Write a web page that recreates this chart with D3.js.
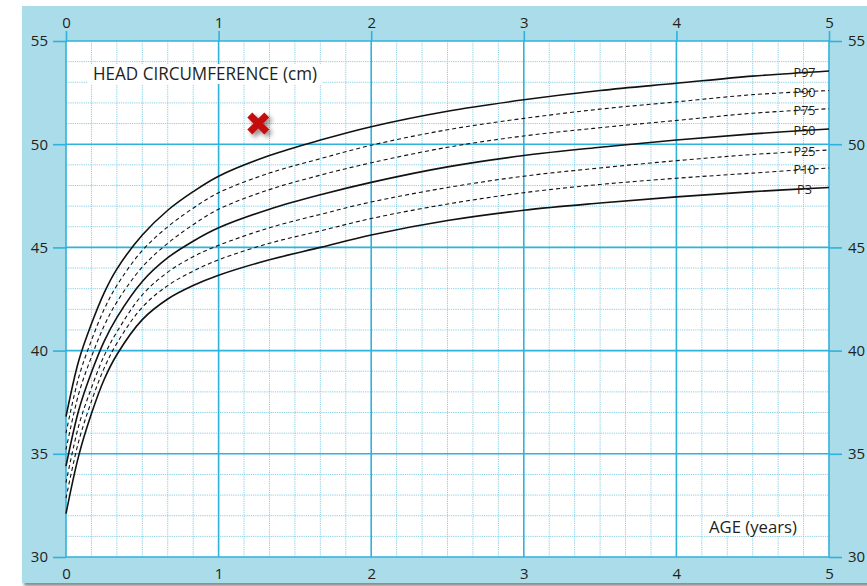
<!DOCTYPE html>
<html>
<head>
<meta charset="utf-8">
<script src="https://cdn.jsdelivr.net/npm/d3@7"></script>
<style>
  html, body { margin: 0; padding: 0; background: #ffffff; }
  svg { display: block; }
  text { font-family: "Open Sans", "DejaVu Sans", sans-serif; fill: #231f20; }
</style>
</head>
<body>
<svg id="chart" width="867" height="586"></svg>
<script>
// ---------- DATA ----------
const ages = [0, 0.083, 0.167, 0.25, 0.333, 0.5, 0.667, 0.833, 1, 1.333, 1.667, 2, 2.5, 3, 3.5, 4, 4.5, 5];
const p97 = [36.8, 39.5, 41.3, 42.8, 43.95, 45.6, 46.8, 47.7, 48.45, 49.45, 50.2, 50.85, 51.6, 52.15, 52.6, 52.95, 53.3, 53.55];
const p90 = [36.0, 38.7, 40.5, 42.0, 43.15, 44.85, 46.0, 46.9, 47.65, 48.6, 49.3, 49.95, 50.7, 51.25, 51.7, 52.05, 52.4, 52.6];
const p75 = [35.2, 37.9, 39.7, 41.2, 42.35, 44.05, 45.2, 46.1, 46.85, 47.8, 48.5, 49.1, 49.85, 50.4, 50.8, 51.15, 51.5, 51.72];
const p50 = [34.4, 37.1, 38.95, 40.45, 41.6, 43.35, 44.5, 45.3, 45.95, 46.85, 47.55, 48.15, 48.9, 49.45, 49.85, 50.2, 50.5, 50.74];
const p25 = [33.6, 36.35, 38.2, 39.75, 40.9, 42.7, 43.8, 44.55, 45.1, 45.95, 46.6, 47.2, 47.9, 48.45, 48.85, 49.2, 49.5, 49.72];
const p10 = [32.85, 35.6, 37.55, 39.15, 40.35, 42.1, 43.15, 43.85, 44.4, 45.2, 45.8, 46.4, 47.1, 47.65, 48.05, 48.35, 48.6, 48.85];
const p3  = [32.1, 34.9, 36.95, 38.6, 39.8, 41.5, 42.5, 43.15, 43.65, 44.4, 45.0, 45.6, 46.3, 46.8, 47.15, 47.45, 47.7, 47.9];
const seriesNames = ["P97", "P90", "P75", "P50", "P25", "P10", "P3"];
const seriesValues = [p97, p90, p75, p50, p25, p10, p3];
const dashedSeries = ["P90", "P75", "P25", "P10"];
const xTicks = [0, 1, 2, 3, 4, 5];
const yTicks = [30, 35, 40, 45, 50, 55];
const markAge = [1.26];
const markValue = [51.0];
const yTitle = "HEAD CIRCUMFERENCE (cm)";
const xTitle = "AGE (years)";
const labelAge = 4.84;

// ---------- LAYOUT ----------
const svg = d3.select("#chart");
const x = d3.scaleLinear().domain([0, 5]).range([66, 829]);
const y = d3.scaleLinear().domain([30, 55]).range([557, 41]);
const majorColor = "#2fb2db";
const minorColor = "#86cfe6";

const defs = svg.append("defs");
const shadow = defs.append("filter").attr("id", "xshadow").attr("x", "-50%").attr("y", "-50%").attr("width", "200%").attr("height", "200%");
shadow.append("feDropShadow").attr("dx", 3).attr("dy", 3).attr("stdDeviation", 2.5).attr("flood-color", "#000").attr("flood-opacity", 0.45);
const bshadow = defs.append("filter").attr("id", "bshadow").attr("x", "-5%").attr("y", "-5%").attr("width", "110%").attr("height", "110%");
bshadow.append("feGaussianBlur").attr("stdDeviation", 1.5);

// panel shadow + blue background
svg.append("rect").attr("x", 24).attr("y", 9).attr("width", 850).attr("height", 577)
  .attr("fill", "#8a8a8a").attr("filter", "url(#bshadow)");
svg.append("rect").attr("x", 22).attr("y", 6).attr("width", 850).attr("height", 577).attr("fill", "#aadcea");

// white plot area
svg.append("rect").attr("x", x(0)).attr("y", y(55)).attr("width", x(5) - x(0)).attr("height", y(30) - y(55)).attr("fill", "#ffffff");

// minor grid
const minorX = d3.range(0, 31).map(i => i / 6).filter(v => Math.abs(v - Math.round(v)) > 1e-6);
const minorY = d3.range(30, 56).filter(v => v % 5 !== 0);
const grid = svg.append("g");
grid.selectAll(".mx").data(minorX).join("line")
  .attr("x1", d => x(d)).attr("x2", d => x(d)).attr("y1", y(55)).attr("y2", y(30))
  .attr("stroke", minorColor).attr("stroke-width", 1).attr("stroke-dasharray", "1.2,1");
grid.selectAll(".my").data(minorY).join("line")
  .attr("x1", x(0)).attr("x2", x(5)).attr("y1", d => y(d)).attr("y2", d => y(d))
  .attr("stroke", minorColor).attr("stroke-width", 1).attr("stroke-dasharray", "1.2,1");

// white boxes for titles (hide grid)
svg.append("rect").attr("x", 88).attr("y", 64).attr("width", 234).attr("height", 20).attr("fill", "#fff");
svg.append("rect").attr("x", 705).attr("y", 517).attr("width", 96).attr("height", 19).attr("fill", "#fff");

// major grid
grid.selectAll(".Mx").data(xTicks).join("line")
  .attr("x1", d => x(d)).attr("x2", d => x(d)).attr("y1", y(55)).attr("y2", y(30))
  .attr("stroke", majorColor).attr("stroke-width", 1.6);
grid.selectAll(".My").data(yTicks).join("line")
  .attr("x1", x(0)).attr("x2", x(5)).attr("y1", d => y(d)).attr("y2", d => y(d))
  .attr("stroke", majorColor).attr("stroke-width", 1.6);

// axes
function styleAxis(g) {
  g.select(".domain").remove();
  g.selectAll(".tick line").attr("stroke", majorColor).attr("stroke-width", 1.6);
  g.selectAll(".tick text").attr("font-size", 15).attr("fill", "#231f20")
    .style("font-family", "'Open Sans', sans-serif");
}
svg.append("g").attr("transform", `translate(${x(0)},0)`)
  .call(d3.axisLeft(y).tickValues(yTicks).tickSize(13).tickPadding(5).tickFormat(d3.format("d"))).call(styleAxis);
svg.append("g").attr("transform", `translate(${x(5)},0)`)
  .call(d3.axisRight(y).tickValues(yTicks).tickSize(13).tickPadding(6).tickFormat(d3.format("d"))).call(styleAxis);
svg.append("g").attr("transform", `translate(0,${y(55)})`)
  .call(d3.axisTop(x).tickValues(xTicks).tickSize(10).tickPadding(3).tickFormat(d3.format("d"))).call(styleAxis);
svg.append("g").attr("transform", `translate(0,${y(30)})`)
  .call(d3.axisBottom(x).tickValues(xTicks).tickSize(0).tickPadding(11).tickFormat(d3.format("d"))).call(styleAxis);

// titles
svg.append("text").attr("x", 93).attr("y", 80).attr("font-size", 18)
  .attr("textLength", 224).attr("lengthAdjust", "spacingAndGlyphs").text(yTitle);
svg.append("text").attr("x", 709).attr("y", 533).attr("font-size", 16.5)
  .attr("textLength", 88).attr("lengthAdjust", "spacingAndGlyphs").text(xTitle);

// curves
const line = d3.line().x(d => x(d[0])).y(d => y(d[1])).curve(d3.curveCatmullRom.alpha(0.5));
const curves = svg.append("g");
seriesNames.forEach((name, i) => {
  const pts = ages.map((a, j) => [a, seriesValues[i][j]]);
  const dashed = dashedSeries.includes(name);
  curves.append("path").attr("d", line(pts)).attr("fill", "none")
    .attr("stroke", "#111").attr("stroke-width", dashed ? 1.1 : 1.6)
    .attr("stroke-dasharray", dashed ? "4,3" : null);
});

// labels
const interp = (arr, a) => {
  const k = d3.bisectRight(ages, a) - 1;
  const t = (a - ages[k]) / (ages[k + 1] - ages[k]);
  return arr[k] + t * (arr[k + 1] - arr[k]);
};
seriesNames.forEach((name, i) => {
  svg.append("text").attr("x", x(labelAge)).attr("y", y(interp(seriesValues[i], labelAge)))
    .attr("dy", "0.36em").attr("text-anchor", "middle").attr("font-size", 13)
    .attr("textLength", name.length === 2 ? 15 : 22).attr("lengthAdjust", "spacingAndGlyphs")
    .text(name);
});

// red cross marker
const cross = svg.append("g").attr("filter", "url(#xshadow)");
markAge.forEach((a, i) => {
  const cx = x(a), cy = y(markValue[i]), r = 8.5;
  cross.append("path")
    .attr("d", `M${cx - r},${cy - r}L${cx + r},${cy + r}M${cx - r},${cy + r}L${cx + r},${cy - r}`)
    .attr("stroke", "#c30d0d").attr("stroke-width", 7).attr("stroke-linecap", "butt");
});
</script>
</body>
</html>
